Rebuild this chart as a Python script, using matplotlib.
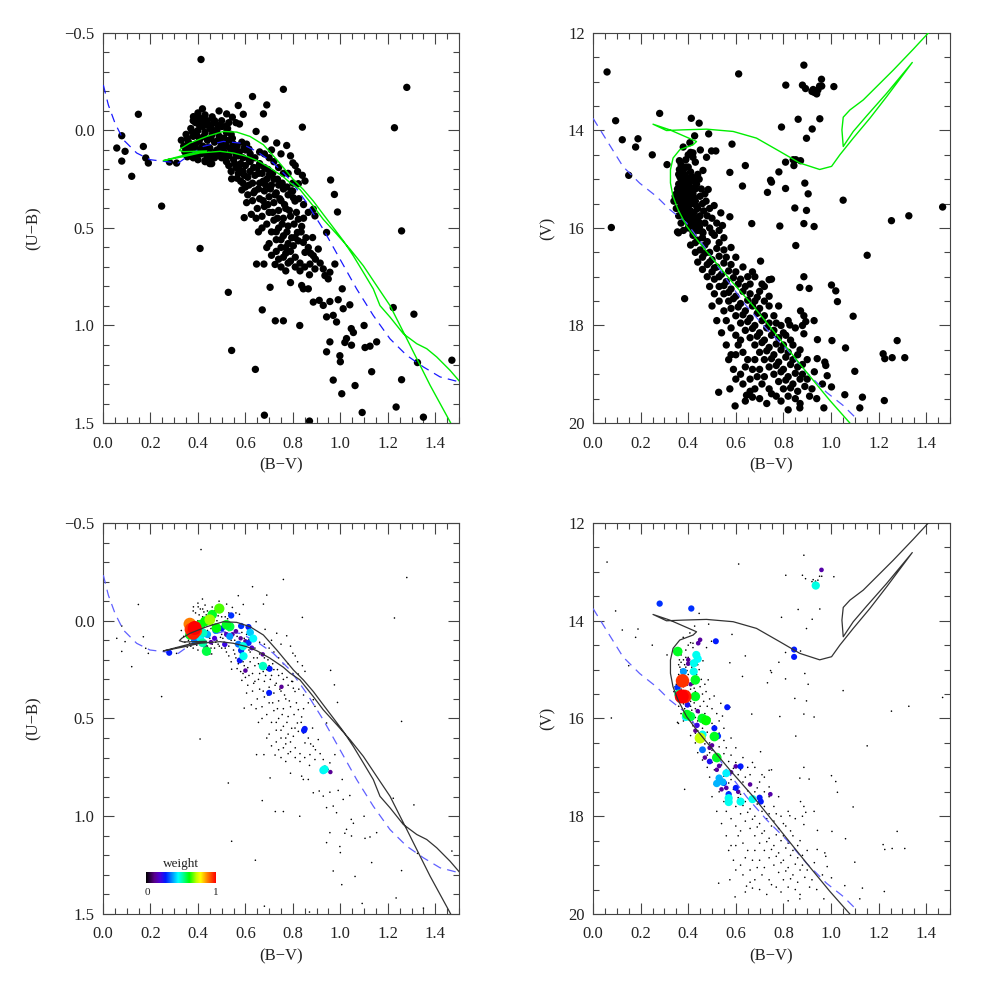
import numpy as np
import matplotlib
matplotlib.use('Agg')
import matplotlib.pyplot as plt
from matplotlib.colors import LinearSegmentedColormap
from matplotlib.ticker import MultipleLocator, FuncFormatter

# ---------------- data ----------------
# (B-V, U-B) stars, top-left panel
tl_outliers = [(0.413,-0.364),(0.76,-0.211),(0.63,-0.174),(1.28,-0.221),(0.84,-0.017),(1.228,-0.014),
 (0.149,-0.083),(0.058,0.09),(0.079,0.027),(0.079,0.157),(0.093,0.107),(0.17,0.082),(0.18,0.141),
 (0.191,0.167),(0.121,0.235),(0.247,0.388),(0.28,0.162),(0.31,0.167),(0.409,0.605),(0.528,0.83),
 (0.542,1.128),(0.595,0.447),(0.642,1.225),(0.68,1.46),(0.87,1.49),(0.829,1.0),(0.726,0.976),
 (0.76,0.976),(0.671,0.92),(0.704,0.804),(0.725,0.687),(0.678,0.685),(0.647,0.685),(0.774,0.077)]
tl_clump = [(0.35,0.02),(0.36,0.06),(0.37,-0.01),(0.37,0.09),(0.38,0.03),(0.38,0.12),(0.39,-0.04),
 (0.39,0.07),(0.40,0.0),(0.40,0.10),(0.41,-0.06),(0.41,0.04),(0.42,-0.02),(0.42,0.08),(0.43,0.01),
 (0.43,0.11),(0.44,-0.05),(0.44,0.05),(0.45,-0.01),(0.45,0.09),(0.46,0.02),(0.46,0.12),(0.47,-0.04),
 (0.47,0.06),(0.48,0.0),(0.48,0.10),(0.49,0.03),(0.49,0.13),(0.50,-0.02),(0.50,0.07),(0.51,0.04),
 (0.51,0.11),(0.52,0.01),(0.52,0.08),(0.53,0.05),(0.53,0.13),(0.54,0.02),(0.54,0.10),(0.55,0.07),
 (0.56,0.12),(0.36,0.10),(0.395,0.025),(0.415,0.09),(0.435,-0.03),(0.455,0.04),(0.475,0.11),
 (0.505,0.09),(0.525,-0.01),(0.34,0.08),(0.33,0.05),(0.345,0.11),(0.44,0.13),(0.46,-0.07),
 (0.43,-0.08),(0.40,-0.09),(0.38,-0.05),(0.47,0.14),(0.415,0.12),(0.37,0.13),(0.355,0.135),
 (0.570,-0.128),(0.69,-0.131),(0.419,-0.111),(0.381,-0.071),(0.401,-0.071),(0.489,-0.10),
 (0.521,-0.085),(0.545,-0.068),(0.591,-0.083),(0.676,-0.085),(0.645,0.005),(0.575,-0.033),
 (0.683,0.044),(0.732,0.064),(0.542,0.248),(0.458,0.17),(0.430,0.154),(0.42,-0.06),(0.47,-0.05),
 (0.50,-0.05),(0.53,-0.04),(0.56,-0.04),(0.40,0.15),(0.43,0.16),(0.38,0.14),(0.45,0.17),
 (0.71,0.10),(0.75,0.12),(0.79,0.13),(0.82,0.21),(0.78,0.22),(0.84,0.23),(0.80,0.27)]
tl_clump_fill = [(0.355,0.04),(0.365,0.075),(0.375,0.005),(0.385,0.085),(0.405,0.055),(0.425,0.03),
 (0.445,0.085),(0.465,0.0),(0.485,0.05),(0.495,0.085),(0.515,0.06),(0.535,0.09),(0.545,0.04),
 (0.555,0.1),(0.565,0.08),(0.575,0.11),(0.585,0.06),(0.595,0.09),(0.605,0.07),(0.615,0.095),
 (0.405,-0.03),(0.425,-0.045),(0.455,-0.025),(0.485,-0.025),(0.515,-0.02),(0.365,0.115),
 (0.395,0.125),(0.425,0.1),(0.455,0.14),(0.485,0.12),(0.515,0.14)]
tl_band = [(0.50,0.14),(0.52,0.16),(0.53,0.18),(0.54,0.21),(0.55,0.15),(0.56,0.19),(0.565,0.245),
 (0.57,0.13),(0.57,0.22),(0.58,0.17),(0.58,0.26),(0.585,0.305),(0.59,0.14),(0.59,0.21),(0.59,0.27),
 (0.60,0.10),(0.60,0.18),(0.60,0.29),(0.605,0.37),(0.61,0.24),(0.61,0.33),(0.62,0.12),(0.62,0.16),
 (0.62,0.21),(0.625,0.43),(0.63,0.27),(0.63,0.36),(0.64,0.14),(0.64,0.23),(0.64,0.31),(0.645,0.45),
 (0.65,0.19),(0.65,0.40),(0.655,0.52),(0.66,0.17),(0.66,0.27),(0.66,0.35),(0.67,0.22),(0.67,0.44),
 (0.67,0.50),(0.68,0.19),(0.68,0.31),(0.68,0.39),(0.69,0.25),(0.69,0.48),(0.69,0.60),(0.70,0.23),
 (0.70,0.34),(0.70,0.42),(0.70,0.58),(0.71,0.28),(0.71,0.52),(0.71,0.64),(0.72,0.25),(0.72,0.37),
 (0.72,0.46),(0.73,0.32),(0.73,0.56),(0.73,0.62),(0.74,0.28),(0.74,0.41),(0.74,0.50),(0.75,0.36),
 (0.75,0.60),(0.75,0.70),(0.76,0.30),(0.76,0.45),(0.76,0.54),(0.77,0.40),(0.77,0.63),(0.77,0.72),
 (0.78,0.33),(0.78,0.49),(0.78,0.58),(0.79,0.44),(0.79,0.67),(0.79,0.78),(0.74,0.19),(0.72,0.16),
 (0.70,0.14),(0.68,0.12),(0.66,0.11),(0.76,0.22)]
tl_band_fill = [(0.555,0.17),(0.575,0.2),(0.595,0.23),(0.615,0.28),(0.635,0.32),(0.655,0.3),(0.675,0.36),
 (0.695,0.38),(0.715,0.42),(0.735,0.45),(0.755,0.48),(0.775,0.52),(0.795,0.55),(0.685,0.28),
 (0.705,0.3),(0.725,0.33),(0.745,0.35),(0.765,0.38),(0.785,0.41),(0.805,0.48),(0.815,0.42),
 (0.835,0.52),(0.855,0.55),(0.865,0.6),(0.875,0.63),(0.895,0.66),(0.915,0.68),(0.615,0.15),
 (0.635,0.19),(0.655,0.22),(0.675,0.26),(0.695,0.2),(0.715,0.22),(0.735,0.25),(0.755,0.27),
 (0.775,0.29),(0.795,0.31),(0.825,0.35),(0.845,0.38),(0.865,0.42),(0.845,0.45),(0.73,0.52),
 (0.75,0.56),(0.77,0.6),(0.79,0.62),(0.81,0.65),(0.83,0.68),(0.85,0.7),(0.87,0.74),(0.83,0.72),
 (0.81,0.7),(0.76,0.65),(0.78,0.68),(0.74,0.66)]
tl_red = [(0.8,0.166),(0.81,0.18),(0.851,0.259),(0.823,0.273),(0.799,0.311),(0.802,0.345),(0.809,0.362),
 (0.959,0.254),(0.975,0.328),(0.988,0.418),(0.886,0.404),(0.893,0.438),(0.823,0.455),(0.837,0.492),
 (0.819,0.523),(0.809,0.549),(0.802,0.591),(0.844,0.574),(0.851,0.625),(0.823,0.566),(0.883,0.549),
 (0.907,0.608),(0.886,0.642),(0.872,0.685),(0.893,0.71),(0.928,0.71),(0.935,0.744),(0.956,0.727),
 (0.949,0.761),(0.977,0.685),(0.942,0.523),(0.837,0.795),(0.844,0.812),(0.865,0.812),(0.886,0.88),
 (0.911,0.871),(0.928,0.897),(0.956,0.877),(0.991,0.868),(1.012,0.914),(1.04,0.894),(0.942,0.956),
 (0.970,0.948),(0.984,0.982),(1.008,0.812),(1.046,1.016),(1.055,1.036),(1.026,1.067),(1.019,1.087),
 (1.047,1.101),(0.956,1.084),(0.942,1.135),(0.998,1.155),(1.0,1.186),(1.1,1.0),(1.104,1.113),
 (1.125,1.106),(1.153,1.084),(1.132,1.237),(1.062,1.308),(1.006,1.35),(0.970,1.28),(1.092,1.446),
 (1.235,1.418),(1.258,0.515),(1.223,0.908),(1.31,0.942),(1.325,1.19),(1.258,1.278),(1.47,1.178),
 (1.35,1.47)]

# (B-V, V) stars, top-right panel
tr_outliers = [(0.059,12.8),(0.612,12.84),(0.886,12.66),(0.81,13.07),(0.88,13.07),(0.893,13.14),
 (0.96,12.95),(0.961,13.09),(0.952,13.09),(1.012,13.1),(0.925,13.16),(0.93,13.22),(0.935,13.19),
 (0.94,13.25),(0.92,13.2),(0.945,13.17),(0.28,13.65),(0.095,13.8),(0.413,13.75),(0.446,13.85),
 (0.427,14.11),(0.486,14.07),(0.123,14.19),(0.189,14.17),(0.179,14.34),(0.249,14.5),(0.15,14.92),
 (0.311,14.7),(0.792,13.93),(0.862,13.77),(0.953,13.76),(0.921,13.97),(0.897,14.16),(0.584,14.28),
 (0.498,14.42),(0.516,14.42),(0.477,14.55),(0.809,14.65),(0.841,14.6),(0.852,14.6),(0.872,14.62),
 (0.844,14.72),(0.64,14.72),(0.781,14.85),(0.575,14.86),(0.746,15.02),(0.75,15.06),(0.628,15.14),
 (0.733,15.27),(0.809,15.19),(0.89,15.08),(0.904,15.3),(0.848,15.59),(0.897,15.64),(0.886,15.91),
 (0.929,15.97),(0.785,15.96),(0.667,15.91),(0.852,16.36),(1.051,15.43),(1.254,15.85),(1.327,15.75),
 (1.469,15.57),(1.152,16.56),(0.077,15.99),(0.385,17.45),(0.704,16.68),(0.74,17.06),(0.886,17.0),
 (0.869,17.22),(0.908,17.24),(1.002,17.17),(1.02,17.29),(1.027,17.51),(1.093,17.81),(0.872,17.7),
 (0.886,17.8),(0.894,17.92),(0.929,17.9),(0.827,17.99),(0.943,18.29),(1.004,18.31),(1.061,18.46),
 (0.886,18.17),(1.278,18.31),(1.219,18.58),(1.226,18.68),(1.257,18.66),(1.31,18.66),(1.1,18.94),
 (0.942,18.68),(0.974,18.75),(0.978,18.82),(0.984,19.03),(0.964,19.2),(1.002,19.26),(1.058,19.42),
 (1.132,19.47),(1.121,19.69),(1.224,19.54),(0.97,19.69),(0.597,19.65),(0.528,19.37),(0.575,19.3),
 (0.645,19.43),(0.67,19.47),(0.82,19.73),(0.869,19.69),(0.407,14.25),(0.379,14.34),(0.451,14.4),
 (0.363,14.62),(0.363,14.8),(0.42,14.46),(0.462,14.82),(0.446,15.0),(0.484,15.21),(0.509,15.54),
 (0.537,15.69),(0.575,15.77),(0.544,15.95),(0.447,15.98),(0.462,16.1),(0.359,16.1)]
tr_upper_ms = [(0.36,14.9),(0.37,15.0),(0.38,15.05),(0.36,15.1),(0.39,15.15),(0.37,15.2),(0.40,15.25),
 (0.35,15.3),(0.38,15.35),(0.41,15.4),(0.36,15.45),(0.39,15.5),(0.42,15.5),(0.37,15.55),(0.40,15.6),
 (0.44,15.6),(0.38,15.7),(0.41,15.75),(0.45,15.75),(0.39,15.85),(0.42,15.9),(0.47,15.9),(0.40,16.0),
 (0.44,16.05),(0.49,16.0),(0.38,14.8),(0.37,14.7),(0.39,14.6),(0.40,14.5),(0.41,14.45),(0.42,14.55),
 (0.43,14.65),(0.40,14.75),(0.44,14.9),(0.42,15.0),(0.43,15.2),(0.45,15.35),(0.46,15.5),(0.34,15.45),
 (0.35,15.6),(0.36,15.75),(0.37,15.9),(0.38,16.05),(0.355,16.08),(0.39,14.95),(0.41,15.05),(0.40,15.1),
 (0.38,15.25),(0.42,15.3),(0.37,15.4),(0.40,15.45),(0.43,15.45),(0.38,15.55),(0.41,15.65),(0.39,15.75),
 (0.43,15.8),(0.40,15.9),(0.345,15.35),(0.355,15.2),(0.37,14.85),(0.41,14.85),(0.39,14.75)]
tr_upper_fill = [(0.365,14.95),(0.385,15.12),(0.415,15.18),(0.395,15.32),(0.425,15.38),(0.365,15.32),
 (0.385,15.45),(0.405,15.52),(0.435,15.55),(0.375,15.62),(0.395,15.68),(0.425,15.68),(0.385,15.8),
 (0.415,15.83),(0.445,15.88),(0.405,15.97),(0.43,15.98),(0.46,16.08),(0.42,16.08),(0.395,15.02),
 (0.375,15.15),(0.415,14.95),(0.385,14.9),(0.435,15.1),(0.455,15.2),(0.475,15.45),(0.465,15.65),
 (0.48,15.75),(0.5,16.1),(0.53,16.05)]
tr_lower_ms = [(0.42,16.15),(0.46,16.2),(0.51,16.15),(0.43,16.3),(0.47,16.35),(0.53,16.3),(0.45,16.45),
 (0.49,16.5),(0.55,16.45),(0.46,16.6),(0.50,16.65),(0.56,16.6),(0.48,16.75),(0.52,16.8),(0.58,16.75),
 (0.50,16.9),(0.54,16.95),(0.60,16.9),(0.51,17.05),(0.56,17.1),(0.62,17.05),(0.53,17.2),(0.58,17.25),
 (0.64,17.2),(0.55,17.35),(0.60,17.4),(0.66,17.35),(0.57,17.5),(0.62,17.55),(0.68,17.5),(0.58,17.65),
 (0.64,17.7),(0.70,17.65),(0.60,17.8),(0.66,17.85),(0.72,17.8),(0.62,17.95),(0.68,18.0),(0.74,17.95),
 (0.64,18.1),(0.70,18.15),(0.76,18.1),(0.66,18.25),(0.72,18.3),(0.78,18.25),(0.68,18.4),(0.74,18.45),
 (0.80,18.4),(0.70,18.55),(0.76,18.6),(0.82,18.55),(0.72,18.7),(0.78,18.75),(0.84,18.7),(0.74,18.85),
 (0.80,18.9),(0.86,18.85),(0.76,19.0),(0.82,19.05),(0.88,19.0),(0.78,19.15),(0.84,19.2),(0.80,19.3),
 (0.86,19.35),(0.82,19.45),(0.41,16.35),(0.43,16.5),(0.44,16.7),(0.46,16.85),(0.48,17.0),(0.49,17.2),
 (0.51,17.35),(0.53,17.5),(0.55,17.7),(0.56,17.9),(0.58,18.05),(0.60,18.2),(0.61,18.4),(0.63,18.55),
 (0.65,18.7),(0.67,18.9),(0.69,19.05),(0.71,19.2),(0.74,19.3),(0.77,19.45),(0.60,19.1),(0.63,19.2),
 (0.66,19.35),(0.70,19.5),(0.73,19.6),(0.57,18.7),(0.59,18.9),(0.62,19.0),(0.50,17.6),(0.52,17.9),
 (0.54,18.15),(0.56,18.4),(0.58,18.6),(0.70,17.3),(0.72,17.5),(0.74,17.6),(0.76,17.8),(0.79,18.0),
 (0.81,18.2),(0.84,18.4),(0.86,18.6),(0.88,18.8),(0.90,19.1),(0.92,19.3),(0.94,19.5),(0.55,16.2),
 (0.58,16.4),(0.60,16.6),(0.63,16.8),(0.65,17.0),(0.67,16.9),(0.52,15.9),(0.49,15.6),(0.47,15.3),
 (0.50,15.8),(0.68,17.0),(0.71,17.15),(0.66,17.15),(0.82,17.9),(0.85,18.05),(0.88,18.0)]
tr_lower_fill = [(0.44,16.25),(0.48,16.28),(0.52,16.42),(0.47,16.52),(0.53,16.58),(0.49,16.7),(0.55,16.72),
 (0.51,16.82),(0.57,16.88),(0.53,17.0),(0.59,17.02),(0.55,17.18),(0.61,17.15),(0.57,17.32),(0.63,17.3),
 (0.59,17.45),(0.65,17.48),(0.61,17.62),(0.67,17.6),(0.63,17.78),(0.69,17.75),(0.65,17.92),(0.71,17.9),
 (0.67,18.06),(0.73,18.05),(0.69,18.22),(0.75,18.2),(0.71,18.35),(0.77,18.38),(0.73,18.52),(0.79,18.5),
 (0.75,18.68),(0.81,18.65),(0.77,18.82),(0.83,18.8),(0.79,18.95),(0.85,18.98),(0.81,19.12),(0.87,19.1),
 (0.83,19.28),(0.89,19.25),(0.85,19.5),(0.79,19.55),(0.75,19.4),(0.68,19.3),(0.64,19.55),(0.87,19.6),
 (0.91,19.45),(0.62,18.3),(0.64,18.85),(0.6,18.6),(0.68,18.7),(0.7,18.9),(0.72,19.05),(0.66,19.1),
 (0.77,17.95),(0.8,18.15),(0.83,18.3),(0.87,18.5),(0.9,18.7),(0.93,18.95),(0.72,17.2),(0.69,17.42),
 (0.74,17.4),(0.78,17.6),(0.75,17.05)]

# weighted members (B-V, U-B, weight), bottom-left
bl_members = [(0.366,0.017,0.88),(0.386,0.037,1.0),(0.38,0.062,0.97),(0.372,0.045,0.95),(0.39,0.05,0.93),
 (0.49,-0.062,0.66),(0.46,-0.031,0.6),(0.45,-0.005,0.7),(0.478,0.037,0.62),(0.52,0.02,0.6),
 (0.534,0.03,0.58),(0.43,0.003,0.62),(0.41,0.02,0.6),(0.366,0.072,0.6),(0.436,0.156,0.58),
 (0.42,0.113,0.52),(0.422,0.062,0.5),(0.59,0.13,0.48),(0.592,0.181,0.47),(0.633,0.091,0.46),
 (0.674,0.232,0.5),(0.934,0.76,0.47),(0.928,0.765,0.45),(0.534,0.08,0.38),(0.279,0.164,0.28),
 (0.54,-0.027,0.3),(0.582,0.027,0.3),(0.613,0.032,0.28),(0.513,0.121,0.22),(0.576,0.203,0.27),
 (0.582,0.152,0.3),(0.613,0.113,0.3),(0.702,0.246,0.28),(0.70,0.369,0.28),(0.847,0.561,0.28),
 (0.85,0.553,0.27),(0.627,0.139,0.18),(0.56,0.054,0.15),(0.58,0.09,0.13),(0.60,0.255,0.14),
 (0.673,0.172,0.14),(0.752,0.338,0.13),(0.958,0.774,0.13),(0.39,0.113,0.14),(0.545,0.07,0.14),
 (0.60,0.105,0.13),(0.475,0.05,0.36),(0.44,0.07,0.4),(0.50,0.04,0.28),(0.41,0.09,0.45),
 (0.385,0.10,0.35),(0.57,0.12,0.35),(0.62,0.06,0.42),(0.47,0.09,0.2),(0.52,0.07,0.18),
 (0.455,0.11,0.15),(0.43,0.13,0.13)]
# weighted members (B-V, V, weight), bottom-right
br_members = [(0.28,13.65,0.3),(0.413,13.75,0.3),(0.96,12.96,0.15),(0.936,13.28,0.48),(0.845,14.59,0.28),
 (0.845,14.74,0.28),(0.516,14.42,0.28),(0.442,14.46,0.15),(0.45,14.39,0.14),(0.356,14.63,0.6),
 (0.434,14.7,0.47),(0.44,14.78,0.46),(0.424,14.87,0.47),(0.423,15.04,0.47),(0.40,14.88,0.14),
 (0.38,15.04,0.38),(0.376,15.23,0.95),(0.43,15.21,0.6),(0.355,15.37,0.3),(0.373,15.55,1.0),
 (0.385,15.55,0.97),(0.36,15.5,0.55),(0.43,15.55,0.6),(0.397,15.72,0.25),(0.564,15.77,0.28),
 (0.395,15.92,0.6),(0.39,15.97,0.46),(0.41,15.96,0.58),(0.459,16.0,0.6),(0.475,16.04,0.62),
 (0.437,16.14,0.22),(0.51,16.2,0.28),(0.46,16.33,0.47),(0.51,16.37,0.6),(0.525,16.36,0.3),
 (0.45,16.4,0.72),(0.46,16.64,0.35),(0.52,16.8,0.6),(0.49,16.88,0.25),(0.53,16.97,0.15),
 (0.60,16.98,0.15),(0.62,16.98,0.28),(0.56,17.12,0.45),(0.53,17.22,0.4),(0.52,17.33,0.4),
 (0.545,17.3,0.4),(0.55,17.32,0.28),(0.56,17.42,0.15),(0.60,17.42,0.28),(0.57,17.63,0.47),
 (0.57,17.71,0.47),(0.62,17.7,0.47),(0.67,17.65,0.47),(0.70,17.62,0.28),(0.705,17.7,0.28),
 (0.745,17.55,0.15),(0.50,16.55,0.14),(0.47,16.8,0.14),(0.58,17.1,0.14),(0.52,17.05,0.14),
 (0.41,15.3,0.13),(0.44,15.85,0.14),(0.43,16.25,0.13),(0.49,16.6,0.14),(0.40,14.8,0.13),
 (0.54,17.45,0.14),(0.61,17.5,0.14),(0.66,17.35,0.14),(0.57,17.55,0.3)]

# isochrone in (B-V, U-B)
iso_ub = [(1.504,1.2888),(1.462,1.2296),(1.406,1.1612),(1.364,1.119),(1.322,1.0934),(1.2655,1.0423),
 (1.2094,0.957),(1.167,0.898),(1.139,0.8128),(1.097,0.7276),(1.0548,0.643),(1.0127,0.566),
 (0.9705,0.498),(0.928,0.430),(0.886,0.362),(0.844,0.3026),(0.802,0.2515),(0.732,0.1495),
 (0.6757,0.073),(0.6195,0.0306),(0.5634,0.0083),(0.507,0.005),(0.437,0.0306),(0.3666,0.0643),
 (0.3316,0.0898),(0.3216,0.102),(0.3384,0.1087),(0.437,0.1052),(0.3666,0.1189),(0.2541,0.1546),
 (0.3384,0.1342),(0.4088,0.1153),(0.493,0.107),(0.549,0.1153),(0.6056,0.1327),(0.6477,0.1531),
 (0.7037,0.1918),(0.7598,0.2378),(0.788,0.268),(0.830,0.3026),(0.886,0.3877),(0.928,0.4556),
 (0.985,0.532),(1.041,0.6087),(1.097,0.694),(1.153,0.796),(1.2094,0.898),(1.2516,1.000),
 (1.28,1.068),(1.322,1.17),(1.378,1.306),(1.462,1.493),(1.469,1.51)]
# isochrone in (B-V, V)
iso_v = [(1.09,20.08),(1.079,19.999),(0.995,19.536),(0.897,18.957),(0.785,18.276),(0.6727,17.596),
 (0.5746,17.051),(0.470,16.44),(0.435,16.23),(0.393,15.96),(0.357,15.62),(0.336,15.349),
 (0.3254,15.076),(0.3254,14.804),(0.3364,14.565),(0.3646,14.395),(0.4206,14.293),(0.435,14.226),
 (0.3226,13.987),(0.252,13.871),(0.3087,14.001),(0.3785,13.987),(0.4769,13.973),(0.5888,14.02),
 (0.687,14.157),(0.785,14.43),(0.869,14.668),(0.9525,14.80),(1.0024,14.736),(1.0375,14.497),
 (1.0934,14.157),(1.1636,13.748),(1.2337,13.307),(1.3415,12.605),(1.2337,13.238),(1.1497,13.701),
 (1.0934,14.021),(1.0514,14.328),(1.0459,13.987),(1.0514,13.728),(1.0795,13.579),(1.1354,13.374),
 (1.1775,13.17),(1.2616,12.762),(1.3457,12.333),(1.409,12.0),(1.43,11.9)]
# ZAMS (dashed)
zams_ub = [(0.0014,-0.233),(0.0225,-0.131),(0.0506,-0.0374),(0.0857,0.0476),(0.1419,0.1156),(0.198,0.1497),
 (0.254,0.158),(0.3174,0.1667),(0.3666,0.1241),(0.4228,0.0816),(0.507,0.056),(0.577,0.0646),
 (0.6475,0.107),(0.7177,0.1667),(0.788,0.2517),(0.858,0.3707),(0.928,0.5068),(0.9986,0.6599),
 (1.069,0.813),(1.139,0.949),(1.209,1.068),(1.2795,1.153),(1.35,1.2126),(1.42,1.2636),(1.49,1.2857),
 (1.501,1.289)]
zams_v = [(0.0,13.75),(0.056,14.19),(0.126,14.74),(0.196,15.08),(0.266,15.35),(0.322,15.62),(0.392,15.89),
 (0.4765,16.44),(0.5606,17.05),(0.6447,17.6),(0.7288,18.07),(0.813,18.48),(0.897,18.96),(0.981,19.37),
 (1.051,19.64),(1.107,19.91)]

ub_ticks = [-0.5, 0.0, 0.5, 1.0, 1.5]
v_ticks = [12, 14, 16, 18, 20]
bv_ticks = [0.0, 0.2, 0.4, 0.6, 0.8, 1.0, 1.2, 1.4]

# ---------------- style ----------------
plt.rcParams['font.family'] = ['Liberation Serif', 'DejaVu Serif']
plt.rcParams['font.size'] = 12
plt.rcParams['axes.unicode_minus'] = True
TXT = '#222222'
plt.rcParams['text.color'] = TXT
plt.rcParams['axes.labelcolor'] = TXT
plt.rcParams['xtick.labelcolor'] = TXT
plt.rcParams['ytick.labelcolor'] = TXT

weight_cmap = LinearSegmentedColormap.from_list('idl_rainbow', [
    (0.0, (0, 0, 0)), (0.12, (0.35, 0.0, 0.55)), (0.2, (0.3, 0.0, 0.85)), (0.28, (0.0, 0.1, 1.0)),
    (0.37, (0.0, 0.55, 1.0)), (0.46, (0.0, 1.0, 1.0)), (0.53, (0.0, 1.0, 0.6)), (0.62, (0.0, 1.0, 0.0)),
    (0.72, (0.75, 1.0, 0.0)), (0.78, (1.0, 1.0, 0.0)), (0.88, (1.0, 0.5, 0.0)), (1.0, (1.0, 0.0, 0.0))])

fig = plt.figure(figsize=(9.81, 9.81), dpi=100)
ax_tl = fig.add_axes([0.105, 0.5688, 0.3629, 0.3976])
ax_tr = fig.add_axes([0.6045, 0.5688, 0.3639, 0.3976])
ax_bl = fig.add_axes([0.105, 0.0683, 0.3629, 0.3986])
ax_br = fig.add_axes([0.6045, 0.0683, 0.3639, 0.3986])

def fmt_minus(x, pos, dec=1):
    s = f'{x:.{dec}f}'
    return s.replace('-', '\u2212')

def style(ax, kind):
    ax.set_xlim(0, 1.5)
    ax.set_xticks(bv_ticks)
    ax.xaxis.set_minor_locator(MultipleLocator(0.05))
    ax.xaxis.set_major_formatter(FuncFormatter(lambda x, p: fmt_minus(x, p, 1)))
    if kind == 'ub':
        ax.set_ylim(1.5, -0.5)
        ax.set_yticks(ub_ticks)
        ax.yaxis.set_minor_locator(MultipleLocator(0.1))
        ax.yaxis.set_major_formatter(FuncFormatter(lambda x, p: fmt_minus(x, p, 1)))
        ax.set_ylabel('(U\u2212B)')
        ax.yaxis.set_label_coords(-0.173, 0.5)
    else:
        ax.set_ylim(20, 12)
        ax.set_yticks(v_ticks)
        ax.yaxis.set_minor_locator(MultipleLocator(0.5))
        ax.yaxis.set_major_formatter(FuncFormatter(lambda x, p: f'{int(round(x))}'))
        ax.set_ylabel('(V)')
        ax.yaxis.set_label_coords(-0.104, 0.5)
    ax.set_xlabel('(B\u2212V)')
    ax.xaxis.set_label_coords(0.5, -0.087)
    ax.tick_params(which='both', direction='in', top=True, right=True, color='#444444', width=0.8)
    ax.tick_params(which='major', length=8)
    ax.tick_params(which='minor', length=4.5)
    ax.tick_params(axis='x', which='major', pad=9)
    ax.tick_params(axis='y', which='major', pad=6)
    for s in ax.spines.values():
        s.set_linewidth(0.8)
        s.set_color('#444444')

def xy(pts):
    a = np.array(pts, dtype=float)
    return a[:, 0], a[:, 1]

tl_all = tl_outliers + tl_clump + tl_clump_fill + tl_band + tl_band_fill + tl_red
tr_all = tr_outliers + tr_upper_ms + tr_upper_fill + tr_lower_ms + tr_lower_fill

dash = (7, 5)
# top-left
x, y = xy(tl_all)
ax_tl.scatter(x, y, s=28, c='black', edgecolors='none', zorder=2)
x, y = xy(zams_ub)
ax_tl.plot(x, y, color='#1a1aff', lw=0.9, dashes=dash, zorder=3)
x, y = xy(iso_ub)
ax_tl.plot(x, y, color='#00ee00', lw=1.0, zorder=4)
style(ax_tl, 'ub')

# top-right
x, y = xy(tr_all)
ax_tr.scatter(x, y, s=28, c='black', edgecolors='none', zorder=2)
x, y = xy(zams_v)
ax_tr.plot(x, y, color='#5555ff', lw=0.9, dashes=dash, zorder=3)
x, y = xy(iso_v)
ax_tr.plot(x, y, color='#00ee00', lw=1.0, zorder=4)
style(ax_tr, 'v')

def weighted(ax, members):
    a = np.array(members, dtype=float)
    order = np.argsort(a[:, 2])
    a = a[order]
    d_px = 3.0 + 11.0 * a[:, 2]
    ax.scatter(a[:, 0], a[:, 1], s=(d_px * 0.72) ** 2, c=a[:, 2], cmap=weight_cmap,
               vmin=0, vmax=1, edgecolors='none', zorder=5)

# bottom-left
x, y = xy(tl_all)
ax_bl.scatter(x, y, s=1.3, c='black', edgecolors='none', zorder=2)
x, y = xy(zams_ub)
ax_bl.plot(x, y, color='#6060ff', lw=0.9, dashes=dash, zorder=3)
x, y = xy(iso_ub)
ax_bl.plot(x, y, color='#333333', lw=0.9, zorder=6)
weighted(ax_bl, bl_members)
style(ax_bl, 'ub')

# colorbar legend
cax = ax_bl.inset_axes([0.122, 0.080, 0.195, 0.027])
cax.imshow(np.linspace(0, 1, 256)[None, :], aspect='auto', cmap=weight_cmap, extent=(0, 1, 0, 1))
cax.set_axis_off()
ax_bl.text(0.218, 0.112, 'weight', transform=ax_bl.transAxes, ha='center', va='bottom', fontsize=9.5)
ax_bl.text(0.124, 0.055, '0', transform=ax_bl.transAxes, ha='center', va='center', fontsize=8)
ax_bl.text(0.316, 0.055, '1', transform=ax_bl.transAxes, ha='center', va='center', fontsize=8)

# bottom-right
x, y = xy(tr_all)
ax_br.scatter(x, y, s=1.3, c='black', edgecolors='none', zorder=2)
x, y = xy(zams_v)
ax_br.plot(x, y, color='#6060ff', lw=0.9, dashes=dash, zorder=3)
x, y = xy(iso_v)
ax_br.plot(x, y, color='#333333', lw=0.9, zorder=6)
weighted(ax_br, br_members)
style(ax_br, 'v')

fig.savefig('out.png', dpi=100)
